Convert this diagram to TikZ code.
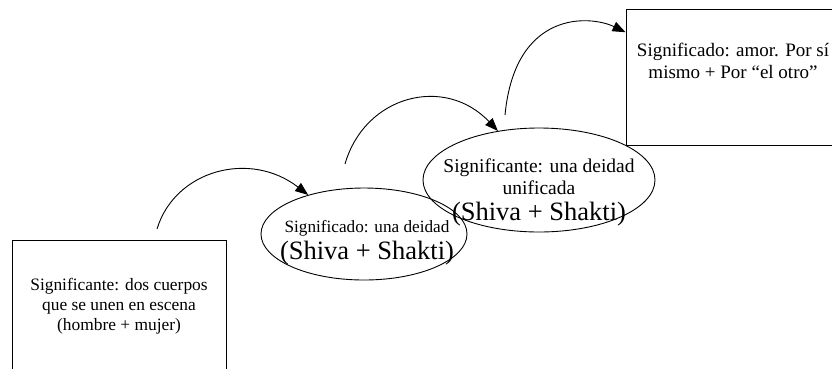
\documentclass[tikz,border=0pt]{standalone}
\usepackage{fontspec}
\setmainfont{Liberation Serif}
\usetikzlibrary{shapes.geometric, arrows.meta}

\tikzset{
  box/.style={draw, rectangle, align=center, inner sep=0},
  oval/.style={draw, ellipse, inner sep=0},
  says/.style={align=center, inner sep=0},
  bend arrow/.style={-{Triangle[length=13pt, width=10pt]}},
}
\newcommand{\bigshiva}{\fontsize{26.5}{28}\selectfont}
\newcommand{\smallsig}{\fontsize{17.2}{20}\selectfont}

\begin{document}
\begin{tikzpicture}[x=1pt, y=-1pt, line width=0.9pt,
    font=\fontsize{17.4}{20}\selectfont]
  \useasboundingbox (0,0) rectangle (832,368);

  \node[box, minimum width=214, minimum height=132] (cuerpos) at (119,306)
    {Significante: dos cuerpos\\que se unen en escena\\(hombre + mujer)};

  \node[oval, minimum width=206, minimum height=92] (deidad) at (364,234) {};
  \node[says] (deidadtxt) at ([xshift=3, yshift=-8.5]deidad)
    {\smallsig Significado: una deidad\\[4pt]\bigshiva (Shiva + Shakti)};

  \node[oval, minimum width=232, minimum height=104] (unificada) at (539,180) {};
  \node[says, font=\fontsize{19.5}{22}\selectfont] (unificadatxt)
    at ([yshift=-12.5]unificada)
    {Significante: una deidad\\unificada\\[4pt]\bigshiva (Shiva + Shakti)};

  \node[box, minimum width=210, minimum height=136] (amor) at (731,77) {};
  \node[says, font=\fontsize{19}{22}\selectfont] (amortxt)
    at ([xshift=2, yshift=16]amor)
    {Significado: amor. Por sí\\mismo + Por “el otro”};

  % arcs between the steps
  \coordinate (from1) at (157,229);
  \coordinate (from2) at (345,164);
  \coordinate (from3) at (505,115);
  \draw[bend arrow] (from1) .. controls (175,170) and (250,150) .. (deidad.145);
  \draw[bend arrow] (from2) .. controls (365,95) and (445,75) .. (unificada.130);
  \draw[bend arrow] (from3) .. controls (515,10) and (590,15) .. (amor.157);
\end{tikzpicture}
\end{document}
